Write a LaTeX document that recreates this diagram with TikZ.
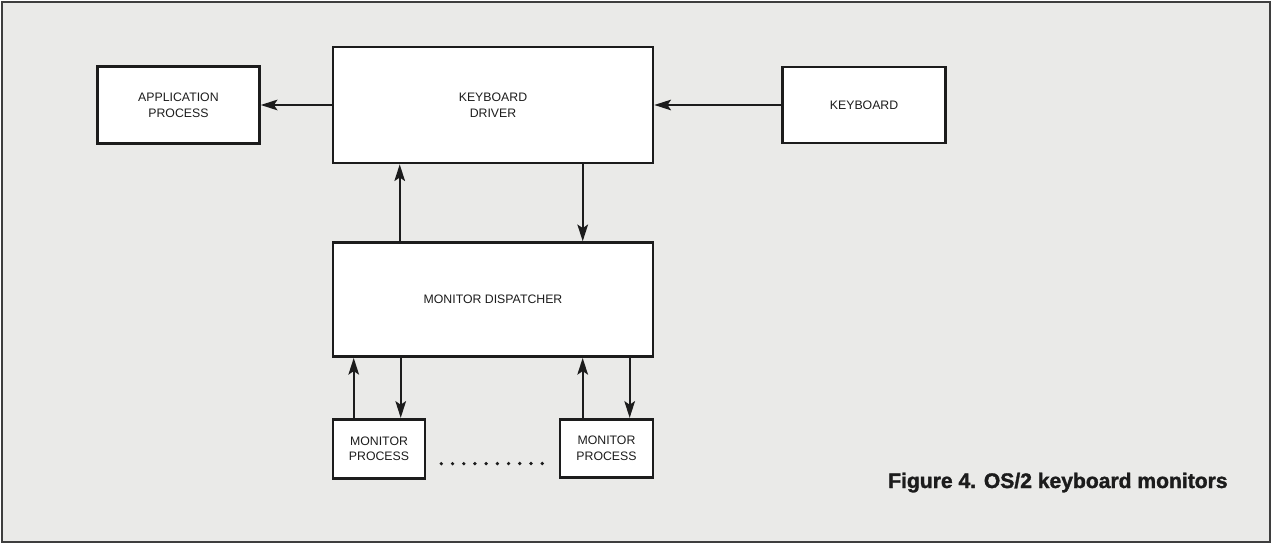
\documentclass[tikz,border=0pt]{standalone}
\usepackage{fontspec}
\setmainfont{Liberation Sans}
\newfontfamily\capfont[BoldFeatures={FakeBold=1.5}]{Liberation Sans}
\usetikzlibrary{arrows.meta, positioning, calc}
\definecolor{papercolor}{RGB}{234, 234, 232}
\definecolor{inkcolor}{RGB}{28, 28, 28}

\begin{document}
\begin{tikzpicture}[
    x=0.02cm, y=-0.02cm,
    node distance=1.2cm,
    procbox/.style={rectangle, draw=inkcolor, line width=1.5pt, fill=white, align=center, inner sep=0pt, text=inkcolor, font=\fontsize{7}{9}\selectfont},
    arr/.style={-{Stealth[length=9.5pt, width=6pt, inset=2pt]}, line width=1.3pt, draw=inkcolor}
]

% page and frame
\useasboundingbox (0,0) rectangle (1273,546);
\draw[fill=papercolor, draw=inkcolor!85, line width=1.2pt] (2,2) rectangle (1270,542);

% driver and its neighbours
\node[procbox, minimum width=6.4cm, minimum height=2.32cm] (drv) at (493,105) {KEYBOARD\\DRIVER};
\node[procbox, minimum width=3.24cm, minimum height=1.54cm, left=1.42cm of drv] (app) {APPLICATION\\PROCESS};
\node[procbox, minimum width=3.26cm, minimum height=1.52cm, right=2.54cm of drv] (kbd) {KEYBOARD};
\node[procbox, minimum width=6.4cm, minimum height=2.28cm, below=1.54cm of drv] (disp) {MONITOR DISPATCHER};

% monitors
\node[procbox, minimum width=1.84cm, minimum height=1.18cm, below=of disp.south west, anchor=north west] (mon1) {MONITOR\\PROCESS};
\node[procbox, minimum width=1.86cm, minimum height=1.17cm, below=of disp.south east, anchor=north east] (mon2) {MONITOR\\PROCESS};

\coordinate (up0) at ($(disp.north west)+(68,0)$);
\coordinate (dn0) at ($(disp.north west)+(251,0)$);
\coordinate (up1) at ($(mon1.north west)+(22,0)$);
\coordinate (dn1) at ($(mon1.north west)+(69,0)$);
\coordinate (up2) at ($(mon2.north west)+(24,0)$);
\coordinate (dn2) at ($(mon2.north west)+(71,0)$);

\draw[arr] (drv.west) -- (app.east);
\draw[arr] (kbd.west) -- (drv.east);
\draw[arr] (up0) -- (up0 |- drv.south);
\draw[arr] (dn0 |- drv.south) -- (dn0);
\draw[arr] (up1) -- (up1 |- disp.south);
\draw[arr] (dn1 |- disp.south) -- (dn1);
\draw[arr] (up2) -- (up2 |- disp.south);
\draw[arr] (dn2 |- disp.south) -- (dn2);

% dots between the monitors
\draw[inkcolor, line width=2.1pt, line cap=round, dash pattern=on 0pt off 6.38pt] ($(mon1.east)+(15,15)$) -- ($(mon2.west)+(-8,15)$);

\node[anchor=base west, text=inkcolor, font=\capfont\bfseries\fontsize{12}{14}\selectfont] (cap) at (882,488) {Figure 4. OS/2 keyboard monitors};

\end{tikzpicture}
\end{document}
